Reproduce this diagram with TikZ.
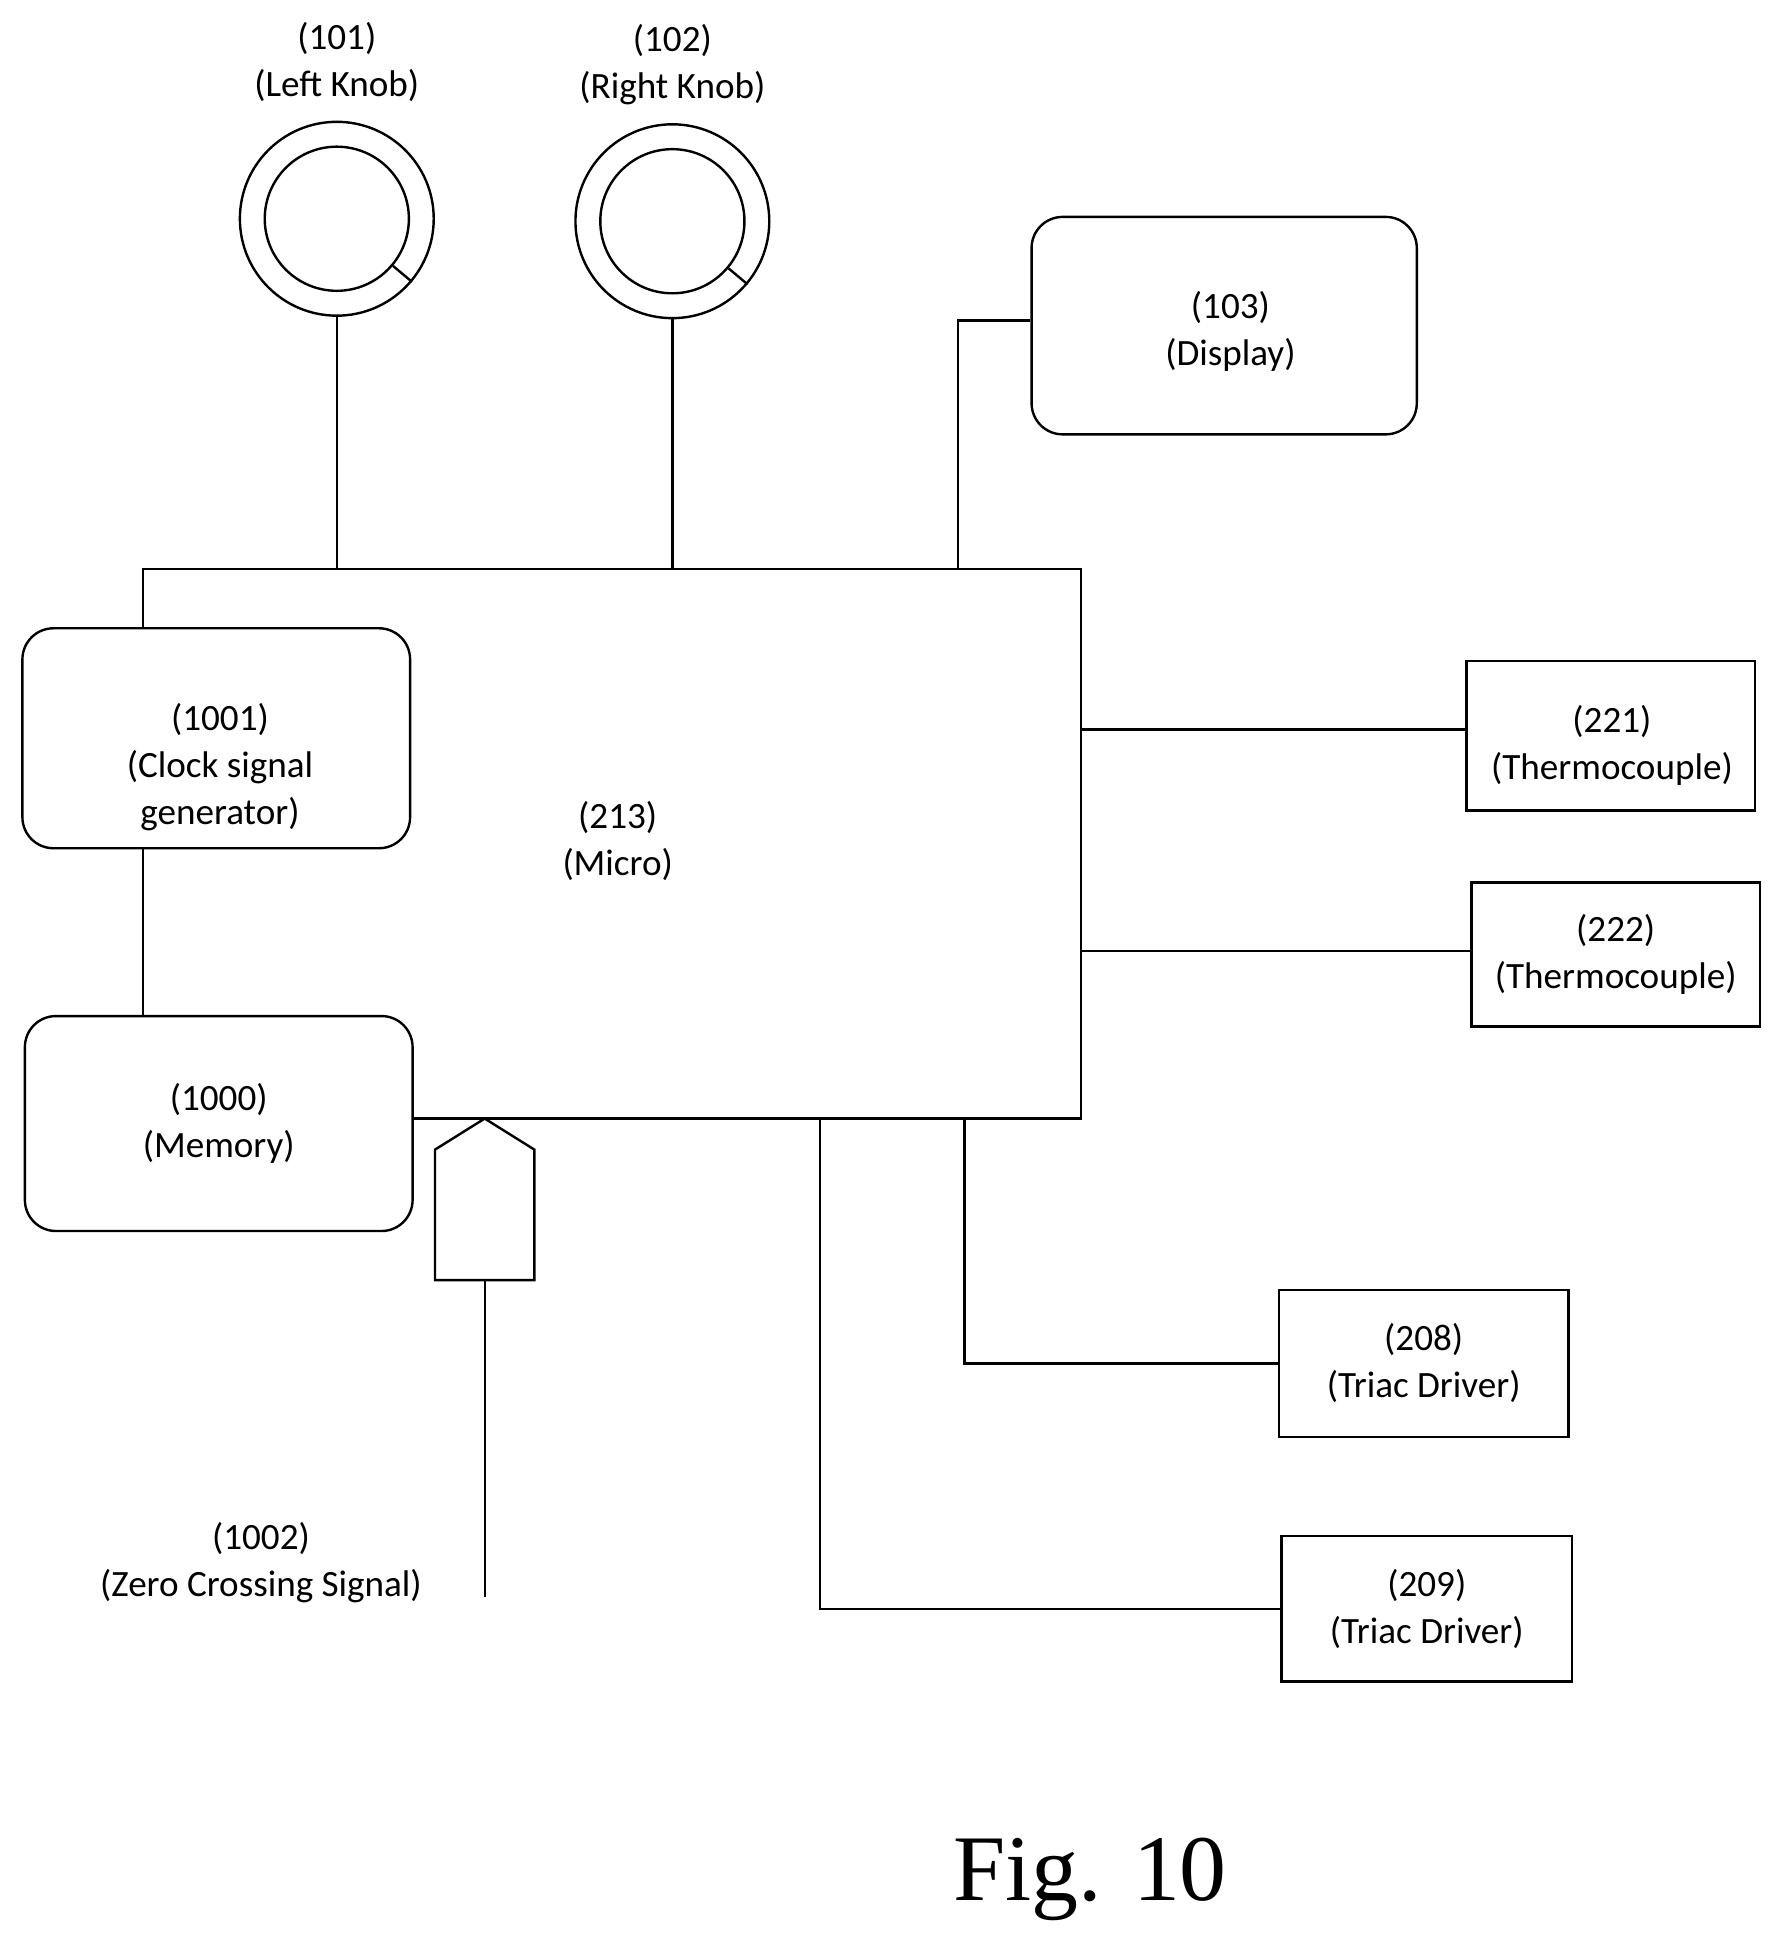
\documentclass[tikz,border=0pt]{standalone}
\usepackage{fontspec}
\setmainfont{Carlito}
\newfontfamily\figfont{Liberation Serif}
\usetikzlibrary{calc}
\begin{document}
\begin{tikzpicture}[x=0.02cm,y=-0.02cm,line width=1.1pt,
  lbl/.style={font=\fontsize{17}{21.5}\selectfont,align=center},
  rbox/.style={draw,rounded corners=0.5cm,fill=white,inner sep=0pt},
  sbox/.style={draw,fill=white,inner sep=0pt},
  knob/.style={draw,circle,inner sep=0pt}]
\useasboundingbox (0,0) rectangle (1440,1569);

% micro
\node[draw,inner sep=0pt,minimum width=15.1cm,minimum height=8.84cm] (M) at (492.5,679) {};
\node[lbl] (Mt) at (497,677) {(213)\\(Micro)};

% knobs
\node[knob,minimum size=3.12cm] (K1) at (271,176) {};
\node[knob,minimum size=2.32cm] (K1i) at (271,176) {};
\node[knob,minimum size=3.12cm] (K2) at (541,178) {};
\node[knob,minimum size=2.32cm] (K2i) at (541,178) {};
\draw (K1i.-40) -- (K1.-40);
\draw (K2i.-40) -- (K2.-40);
\node[lbl] (K1t) at (271,50) {(101)\\(Left Knob)};
\node[lbl] (K2t) at (541,52) {(102)\\(Right Knob)};
\draw (K1.south) -- (K1.south |- M.north);
\draw (K2.south) -- (K2.south |- M.north);

% display
\node[rbox,minimum width=6.2cm,minimum height=3.5cm] (D) at (985,262) {};
\node[lbl] (Dt) at (990,267) {(103)\\(Display)};
\draw (D.west |- 0,258) -- (771,258) -- (771,458);

% clock and memory
\node[rbox,minimum width=6.24cm,minimum height=3.54cm] (C) at (174,594) {};
\node[lbl] (Ct) at (177,617) {(1001)\\(Clock signal\\generator)};
\node[rbox,minimum width=6.24cm,minimum height=3.46cm,lbl] (Mem) at (176,904) {(1000)\\(Memory)};

% thermocouples
\node[sbox,minimum width=4.64cm,minimum height=2.4cm] (T1) at (1296,592) {};
\node[lbl] (T1t) at (1297,600) {(221)\\(Thermocouple)};
\node[sbox,minimum width=4.64cm,minimum height=2.32cm,lbl] (T2) at (1300,768) {(222)\\(Thermocouple)};
\draw (870,587) -- (T1.west |- 0,587);
\draw (870,765) -- (T2.west |- 0,765);

% triac drivers
\node[sbox,minimum width=4.66cm,minimum height=2.36cm,lbl] (T8) at (1145.5,1097) {(208)\\(Triac Driver)};
\node[sbox,minimum width=4.68cm,minimum height=2.34cm,lbl] (T9) at (1148,1294.5) {(209)\\(Triac Driver)};
\draw (776,900) |- (T8.west);
\draw (660,900) |- (T9.west);

% zero crossing
\draw[fill=white] (390,900) -- (430,925) -- (430,1030) -- (350,1030) -- (350,925) -- cycle;
\coordinate (Z) at (390,1030);
\coordinate (Ze) at (390,1285);
\draw (Z) -- (Ze);
\node[lbl] (Zt) at (210,1257) {(1002)\\(Zero Crossing Signal)};

\node[font=\figfont\fontsize{43}{50}\selectfont] (F) at (877,1512) {Fig. 10};
\end{tikzpicture}
\end{document}
